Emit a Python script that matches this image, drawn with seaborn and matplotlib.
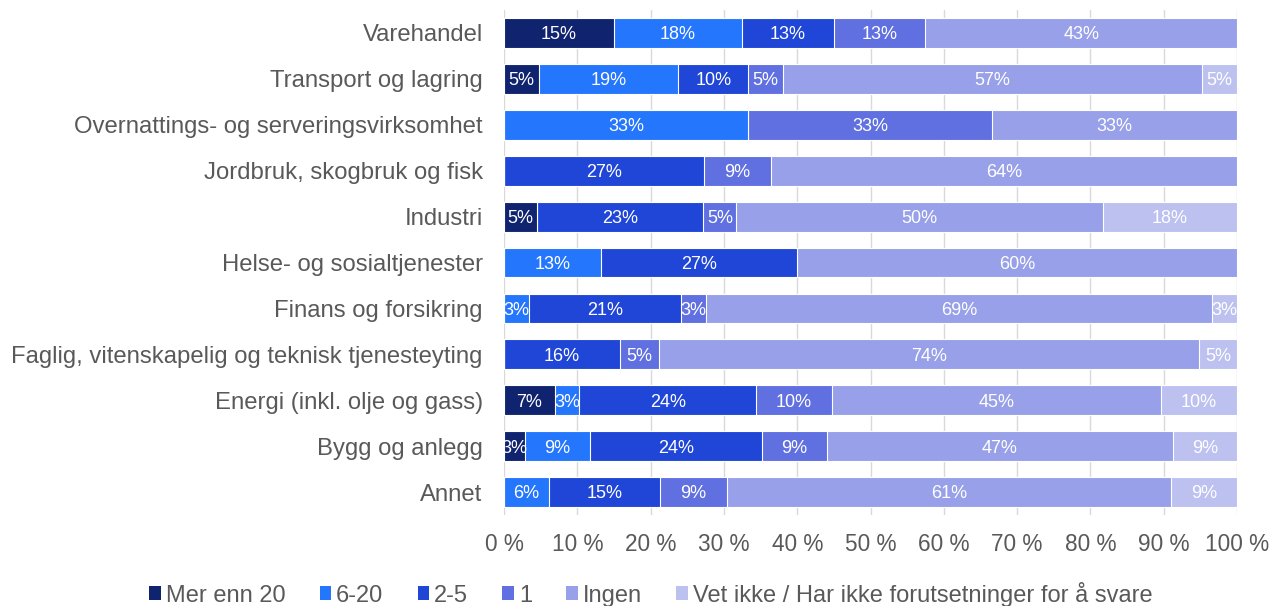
import numpy as np
import pandas as pd
import matplotlib
matplotlib.use("Agg")
import matplotlib.pyplot as plt
from matplotlib.patches import Patch
import seaborn as sns

# Sectors (top to bottom)
categories = [
    "Varehandel",
    "Transport og lagring",
    "Overnattings- og serveringsvirksomhet",
    "Jordbruk, skogbruk og fisk",
    "Industri",
    "Helse- og sosialtjenester",
    "Finans og forsikring",
    "Faglig, vitenskapelig og teknisk tjenesteyting",
    "Energi (inkl. olje og gass)",
    "Bygg og anlegg",
    "Annet",
]

series_names = ["Mer enn 20", "6-20", "2-5", "1", "Ingen",
                "Vet ikke / Har ikke forutsetninger for å svare"]

# Share of respondents (%) per answer, one list per answer option
mer_enn_20 = [15.0, 4.8, 0.0, 0.0, 4.5, 0.0, 0.0, 0.0, 6.9, 2.9, 0.0]
seks_20 = [17.5, 19.0, 33.3, 0.0, 0.0, 13.3, 3.4, 0.0, 3.4, 8.8, 6.1]
to_fem = [12.5, 9.5, 0.0, 27.3, 22.7, 26.7, 20.7, 15.8, 24.1, 23.5, 15.2]
en = [12.5, 4.8, 33.3, 9.1, 4.5, 0.0, 3.4, 5.3, 10.3, 8.8, 9.1]
ingen = [42.5, 57.1, 33.4, 63.6, 50.0, 60.0, 69.1, 73.7, 44.9, 47.2, 60.6]
vet_ikke = [0.0, 4.8, 0.0, 0.0, 18.3, 0.0, 3.4, 5.2, 10.4, 8.8, 9.0]

colors = ["#10236f", "#2476fd", "#1f46d6", "#6070e0", "#97a0e8", "#bcc1f0"]

values = np.array([mer_enn_20, seks_20, to_fem, en, ingen, vet_ikke])
ends = np.cumsum(values, axis=0)
starts = ends - values

sns.set_theme(style="white")
plt.rcParams["font.family"] = ["Liberation Sans", "DejaVu Sans"]

fig = plt.figure(figsize=(12.71, 6.06), dpi=100)
ax = fig.add_axes([0.3965, 0.150, 0.5768, 0.8335])

# Stacked bars: draw cumulative totals from the outermost segment inward
for i in range(len(series_names) - 1, -1, -1):
    df = pd.DataFrame({"sektor": categories, "verdi": ends[i]})
    sns.barplot(data=df, x="verdi", y="sektor", orient="h", color=colors[i],
                width=0.65, edgecolor="white", linewidth=0.8,
                saturation=1, ax=ax, zorder=3)

# Value labels centred in each segment
for i in range(len(series_names)):
    for j in range(len(categories)):
        v = values[i, j]
        if v <= 0:
            continue
        label = f"{int(np.floor(v + 0.5))}%"
        ax.text(starts[i, j] + v / 2, j + 0.04, label, ha="center", va="center",
                color="white", fontsize=13, zorder=5)

ax.set_xlim(0, 100)
ax.set_xticks(np.arange(0, 101, 10))
ax.set_xticklabels([f"{t} %" for t in range(0, 101, 10)])
ax.grid(axis="x", color="#d9d9d9", linewidth=1, zorder=0)
ax.set_axisbelow(True)
ax.set_xlabel("")
ax.set_ylabel("")
for s in ax.spines.values():
    s.set_visible(False)
ax.tick_params(axis="x", length=0, pad=13, labelsize=16.3, labelcolor="#595959")
ax.tick_params(axis="y", length=0, pad=15.3, labelsize=17.2, labelcolor="#595959")

handles = [Patch(facecolor=c, edgecolor="none") for c in colors]
fig.legend(handles, series_names, loc="lower center", ncol=6,
           bbox_to_anchor=(0.512, -0.036), frameon=False, fontsize=17,
           handlelength=0.5, handleheight=0.5, handletextpad=0.2,
           columnspacing=1.45, labelcolor="#595959")

fig.savefig("out.png", dpi=100)
